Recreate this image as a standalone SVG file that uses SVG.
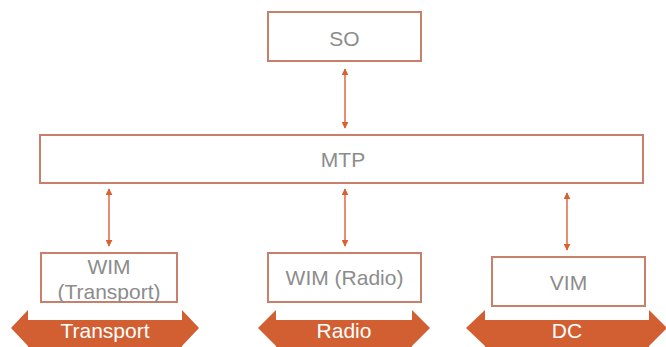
<svg xmlns="http://www.w3.org/2000/svg" width="666" height="347" viewBox="0 0 666 347">
<style>
.box{fill:#fff;stroke:#C8806A;stroke-width:2}
.lbl{font-family:"Liberation Sans",Arial,sans-serif;font-size:21px;fill:#8C8C8C;text-anchor:middle}
.band{fill:#D15F32}
.bl{font-family:"Liberation Sans",Arial,sans-serif;font-size:21px;fill:#fff;text-anchor:middle}
.conn{stroke:#DB6A40;stroke-width:1.5;fill:none;marker-start:url(#ah);marker-end:url(#ah)}
</style>
<defs>
<marker id="ah" viewBox="0 0 10 10" refX="9" refY="5" markerWidth="7" markerHeight="7" markerUnits="userSpaceOnUse" orient="auto-start-reverse">
<path d="M0,0 L10,5 L0,10 z" fill="#D9602F"/>
</marker>
</defs>
<rect width="666" height="347" fill="#fff"/>
<g id="connectors">
<line class="conn" x1="345" y1="69" x2="345" y2="128"/>
<line class="conn" x1="109" y1="189" x2="109" y2="246"/>
<line class="conn" x1="345" y1="189" x2="345" y2="246"/>
<line class="conn" x1="567" y1="193" x2="567" y2="250"/>
</g>
<g id="so"><rect class="box" x="268" y="12" width="153" height="49"/><text class="lbl" x="344.5" y="46">SO</text></g>
<g id="mtp"><rect class="box" x="40" y="135" width="603" height="48"/><text class="lbl" x="343" y="167">MTP</text></g>
<g id="wim-transport"><rect class="box" x="41" y="253" width="136" height="49"/><text class="lbl" x="109" y="274">WIM</text><text class="lbl" x="109" y="299">(Transport)</text></g>
<g id="wim-radio"><rect class="box" x="268" y="253" width="153" height="49"/><text class="lbl" x="344.5" y="285">WIM (Radio)</text></g>
<g id="vim"><rect class="box" x="492" y="257" width="153" height="49"/><text class="lbl" x="568.5" y="290">VIM</text></g>
<g id="transport-band"><path class="band" d="M11,328 L28,310 L28,320 L182,320 L182,310 L199,328 L182,346 L182,348 L28,348 L28,346 Z"/><text class="bl" x="105" y="338">Transport</text></g>
<g id="radio-band"><path class="band" d="M258,328 L276,310 L276,320 L412,320 L412,310 L430,328 L412,346 L412,348 L276,348 L276,346 Z"/><text class="bl" x="344" y="338">Radio</text></g>
<g id="dc-band"><path class="band" d="M466,328 L485,310 L485,320 L649,320 L649,310 L667,328 L649,346 L649,348 L485,348 L485,346 Z"/><text class="bl" x="567" y="338">DC</text></g>
</svg>
